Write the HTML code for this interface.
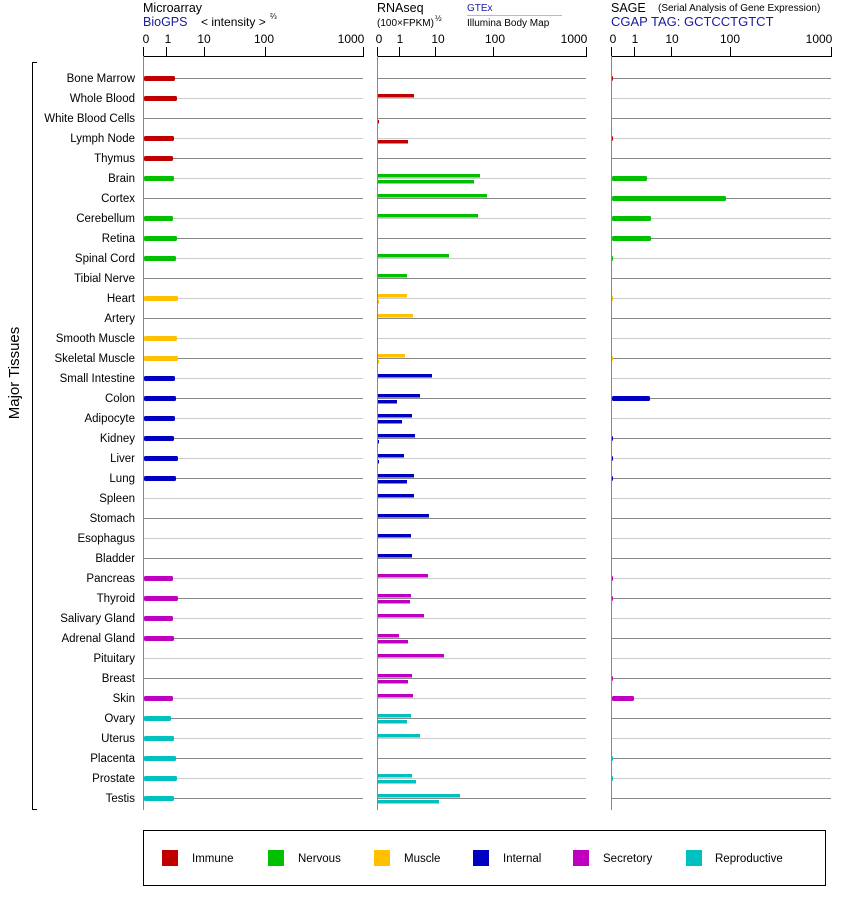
<!DOCTYPE html>
<html><head><meta charset="utf-8"><style>
body{margin:0;background:#fff}
svg{display:block;font-family:"Liberation Sans",Arial,sans-serif}
</style></head><body>
<svg width="842" height="900" viewBox="0 0 842 900" xmlns="http://www.w3.org/2000/svg">
<rect width="842" height="900" fill="#fff"/>
<text x="143" y="12" font-size="12.5">Microarray</text>
<text x="143" y="26" font-size="12.5" fill="#1a1aa0">BioGPS</text>
<text x="201" y="26" font-size="12">&lt; intensity &gt;</text>
<text x="270" y="19" font-size="8">⅔</text>
<text x="377" y="12" font-size="12.5">RNAseq</text>
<text x="377" y="26" font-size="10">(100×FPKM)</text>
<text x="435" y="21" font-size="8">½</text>
<text x="467" y="11" font-size="10" fill="#1a1aa0">GTEx</text>
<line x1="467" y1="15.5" x2="562" y2="15.5" stroke="#bbb"/>
<text x="467" y="26" font-size="10">Illumina Body Map</text>
<text x="611" y="12" font-size="12.5">SAGE</text>
<text x="658" y="11" font-size="10">(Serial Analysis of Gene Expression)</text>
<text x="611" y="26" font-size="13" fill="#1a1aa0">CGAP TAG: GCTCCTGTCT</text>
<g font-size="12" text-anchor="middle">
<text x="146" y="43">0</text><text x="168" y="43">1</text><text x="204" y="43">10</text><text x="264" y="43">100</text><text x="351" y="43">1000</text>
<text x="379" y="43">0</text><text x="400" y="43">1</text><text x="438" y="43">10</text><text x="495" y="43">100</text><text x="574" y="43">1000</text>
<text x="613" y="43">0</text><text x="635" y="43">1</text><text x="672" y="43">10</text><text x="730" y="43">100</text><text x="819" y="43">1000</text>
</g>
<g stroke="#000" stroke-width="1" fill="none">
<path d="M143.5 47V56.5H363.5V47M166.5 47V56M204.5 47V56M265.5 47V56"/>
<path d="M377.5 47V56.5H586.5V47M399.5 47V56M435.5 47V56M493.5 47V56"/>
<path d="M611.5 47V56.5H831.5V47M634.5 47V56M671.5 47V56M730.5 47V56"/>
</g>
<g stroke="#888"><line x1="143.5" y1="56" x2="143.5" y2="810"/><line x1="377.5" y1="56" x2="377.5" y2="810"/><line x1="611.5" y1="56" x2="611.5" y2="810"/></g>
<g id="rows"></g>
<path d="M37 62.5H32.5V809.5H37" fill="none" stroke="#000"/>
<text transform="translate(19,373) rotate(-90)" font-size="15" text-anchor="middle">Major Tissues</text>
<g id="labels" font-size="11.5" text-anchor="end">
<text x="135" y="82">Bone Marrow</text><text x="135" y="102">Whole Blood</text><text x="135" y="122">White Blood Cells</text><text x="135" y="142">Lymph Node</text><text x="135" y="162">Thymus</text><text x="135" y="182">Brain</text><text x="135" y="202">Cortex</text><text x="135" y="222">Cerebellum</text><text x="135" y="242">Retina</text><text x="135" y="262">Spinal Cord</text><text x="135" y="282">Tibial Nerve</text><text x="135" y="302">Heart</text><text x="135" y="322">Artery</text><text x="135" y="342">Smooth Muscle</text><text x="135" y="362">Skeletal Muscle</text><text x="135" y="382">Small Intestine</text><text x="135" y="402">Colon</text><text x="135" y="422">Adipocyte</text><text x="135" y="442">Kidney</text><text x="135" y="462">Liver</text><text x="135" y="482">Lung</text><text x="135" y="502">Spleen</text><text x="135" y="522">Stomach</text><text x="135" y="542">Esophagus</text><text x="135" y="562">Bladder</text><text x="135" y="582">Pancreas</text><text x="135" y="602">Thyroid</text><text x="135" y="622">Salivary Gland</text><text x="135" y="642">Adrenal Gland</text><text x="135" y="662">Pituitary</text><text x="135" y="682">Breast</text><text x="135" y="702">Skin</text><text x="135" y="722">Ovary</text><text x="135" y="742">Uterus</text><text x="135" y="762">Placenta</text><text x="135" y="782">Prostate</text><text x="135" y="802">Testis</text>
</g>
<g id="bars"></g>
<rect x="143.5" y="830.5" width="682" height="55" fill="none" stroke="#000"/>
<rect x="162" y="850" width="16" height="16" fill="#c00000"/><text x="192" y="862" font-size="11.5">Immune</text>
<rect x="268" y="850" width="16" height="16" fill="#00c000"/><text x="298" y="862" font-size="11.5">Nervous</text>
<rect x="374" y="850" width="16" height="16" fill="#ffc000"/><text x="404" y="862" font-size="11.5">Muscle</text>
<rect x="473" y="850" width="16" height="16" fill="#0000c0"/><text x="503" y="862" font-size="11.5">Internal</text>
<rect x="573" y="850" width="16" height="16" fill="#c000c0"/><text x="603" y="862" font-size="11.5">Secretory</text>
<rect x="686" y="850" width="16" height="16" fill="#00c0c0"/><text x="715" y="862" font-size="11.5">Reproductive</text>
</svg>
<script>
var NS="http://www.w3.org/2000/svg";
function el(p,t,a){var e=document.createElementNS(NS,t);for(var k in a)e.setAttribute(k,a[k]);p.appendChild(e);return e;}
var rows=document.getElementById('rows'),bars=document.getElementById('bars');
var C={I:"#c00000",N:"#00c000",M:"#ffc000",T:"#0000c0",S:"#c000c0",R:"#00c0c0"};
var D=[["I",175,0,0,613],["I",177,414,0,0],["I",0,0,379,0],["I",174,0,408,613],["I",173,0,0,0],
["N",174,480,474,647],["N",0,487,0,726],["N",173,478,0,651],["N",177,0,0,651],["N",176,449,0,613],["N",0,407,0,0],
["M",178,407,379,613],["M",0,413,0,0],["M",177,0,0,0],["M",178,405,379,613],
["T",175,432,0,0],["T",176,420,397,650],["T",175,412,402,0],["T",174,415,379,613],["T",178,404,379,613],["T",176,414,407,613],["T",0,414,0,0],["T",0,429,0,0],["T",0,411,0,0],["T",0,412,0,0],
["S",173,428,0,613],["S",178,411,410,613],["S",173,424,0,0],["S",174,399,408,0],["S",0,444,0,0],["S",0,412,408,613],["S",173,413,0,634],
["R",171,411,407,0],["R",174,420,0,0],["R",176,0,0,613],["R",177,412,416,613],["R",174,460,439,0]];
D.forEach(function(d,i){
 var y=78+20*i, c=C[d[0]], col=i%2==0?"#888":"#ccc";
 [[144,363],[378,586],[612,831]].forEach(function(r){el(rows,'line',{x1:r[0],x2:r[1],y1:y+.5,y2:y+.5,stroke:col});});
 if(d[1]) el(bars,'rect',{x:144,y:y-2,width:d[1]-144,height:5,rx:1.5,fill:c});
 if(d[2]) el(bars,'rect',{x:378,y:y-4,width:d[2]-378,height:3.5,fill:c});
 if(d[3]) el(bars,'rect',{x:378,y:y+2,width:d[3]-378,height:3.5,fill:c});
 if(d[4]) el(bars,'rect',{x:612,y:y-2,width:d[4]-612,height:5,rx:1.5,fill:c});
});
</script>
</body></html>
